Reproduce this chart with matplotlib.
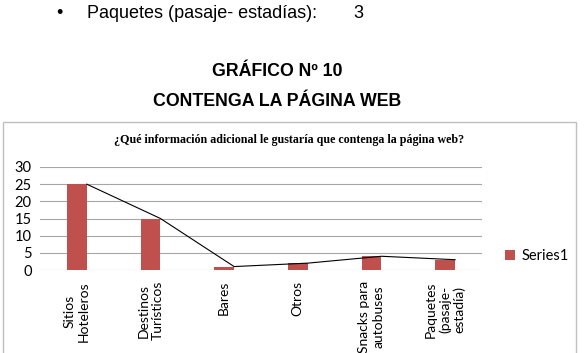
import numpy as np
import matplotlib.pyplot as plt
from matplotlib.patches import Rectangle

# Data
categories = ['Sitios\nHoteleros', 'Destinos\nTurísticos', 'Bares', 'Otros',
              'Snacks para\nautobuses', 'Paquetes\n(pasaje-\nestadía)']
values = [25, 15, 1, 2, 4, 3]
yticks = [0, 5, 10, 15, 20, 25, 30]

bar_color = '#C0504D'
W, H = 584, 353

fig = plt.figure(figsize=(W / 100, H / 100), dpi=100)
fig.patch.set_facecolor('white')

# Document text above the chart
fig.text(59 / W, 1 - 13 / H, '\u2022', fontsize=13, family='Liberation Sans',
         ha='center', va='center')
fig.text(87 / W, 1 - 13 / H, 'Paquetes (pasaje- estadías):', fontsize=13,
         family='Liberation Sans', ha='left', va='center')
fig.text(353 / W, 1 - 13 / H, '3', fontsize=13, family='Liberation Sans',
         ha='left', va='center')
fig.text(277.5 / W, 1 - 72 / H, 'GRÁFICO Nº 10', fontsize=12.8, fontweight='bold',
         family='Liberation Sans', ha='center', va='center')
fig.text(277.5 / W, 1 - 102 / H, 'CONTENGA LA PÁGINA WEB', fontsize=12.8,
         fontweight='bold', family='Liberation Sans', ha='center', va='center')

# Chart frame
fig.patches.append(Rectangle((3 / W, -0.01), 573 / W, 1 - 122 / H + 0.01,
                             transform=fig.transFigure, fill=False,
                             edgecolor='#BFBFBF', linewidth=1))
fig.text(289 / W, 1 - 140 / H,
         '¿Qué información adicional le gustaría que contenga la página web?',
         fontsize=8.65, fontweight='bold', family='Liberation Serif',
         ha='center', va='center')

ax = fig.add_axes([40 / W, 1 - 270 / H, 442 / W, 103 / H])
x = np.arange(len(categories))
w = 0.27
ax.bar(x, values, width=w, color=bar_color, zorder=3, label='Series1')
ax.plot(x + w / 2, values, color='black', linewidth=0.8, zorder=4)

ax.set_xlim(-0.5, len(categories) - 0.5)
ax.set_ylim(0, 30)
ax.set_yticks(yticks)
ax.yaxis.grid(True, color='#A6A6A6', linewidth=0.8, zorder=0)
for s in ax.spines.values():
    s.set_visible(False)
ax.tick_params(axis='y', length=0, labelsize=10.5, pad=6)
ax.tick_params(axis='x', length=0, pad=8)
ax.set_xticks(x)
ax.set_xticklabels(categories, rotation=90, fontsize=10, va='top', ha='center',
                   linespacing=1.2)
for lbl in ax.get_xticklabels() + ax.get_yticklabels():
    lbl.set_family('Lato')

leg = ax.legend(loc='center left', bbox_to_anchor=(492 / W, 1 - 256 / H),
                bbox_transform=fig.transFigure, frameon=False,
                prop={'family': 'Lato', 'size': 10.5}, handlelength=0.7,
                handleheight=0.7, handletextpad=0.4)

fig.savefig('out.png', dpi=100)
